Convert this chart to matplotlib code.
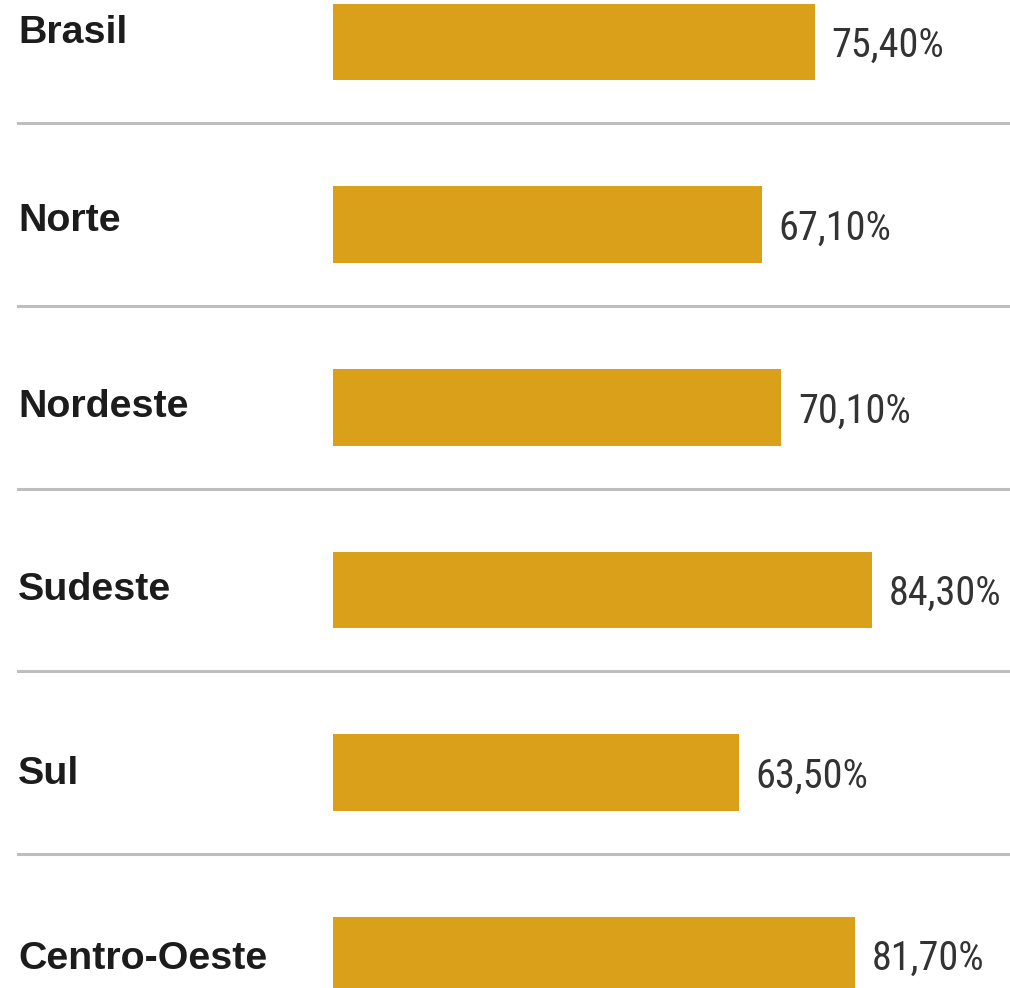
import matplotlib
matplotlib.use('Agg')
import matplotlib.pyplot as plt
from matplotlib import font_manager

regions = ['Brasil', 'Norte', 'Nordeste', 'Sudeste', 'Sul', 'Centro-Oeste']
values = [75.4, 67.1, 70.1, 84.3, 63.5, 81.7]
value_labels = ['75,40%', '67,10%', '70,10%', '84,30%', '63,50%', '81,70%']

bar_color = '#DBA01A'
line_color = '#BEBEBE'

# pick a narrow face for the percentages if one is around
names = {f.name for f in font_manager.fontManager.ttflist}
narrow, nsize = 'Liberation Sans', 25
for cand, sz in [('Roboto Condensed', 29), ('Liberation Sans Narrow', 29),
                 ('Open Sans Condensed', 29), ('DejaVu Sans Condensed', 25)]:
    if cand in names:
        narrow, nsize = cand, sz
        break

fig = plt.figure(figsize=(10.1, 9.88), dpi=100)
ax = fig.add_axes([0, 0, 1, 1])

ys = list(range(len(regions)))
ax.barh(ys, values, height=0.42, color=bar_color, zorder=2)

label_dy = [-0.05, -0.02, 0.0, 0.0, 0.01, 0.02]
for y, name, v, lab, dy in zip(ys, regions, values, value_labels, label_dy):
    ax.text(-49.3, y + dy, name, ha='left', va='center',
            fontsize=20.5 * 108 / 75 * 0.96, fontweight='bold',
            family='Liberation Sans', color='#1c1c1c')
    ax.text(v + 2.6, y + 0.02, lab, ha='left', va='center',
            fontsize=nsize, family=narrow, color='#333333')

# separators between rows
for y in ys[:-1]:
    ax.plot([-49.3, 110], [y + 0.445, y + 0.445], color=line_color, lw=2.2, zorder=1)

ax.set_xlim(-52.1, 105.9)
ax.set_ylim(5.18, -0.23)
ax.axis('off')

fig.savefig('out.png', dpi=100, facecolor='white')
